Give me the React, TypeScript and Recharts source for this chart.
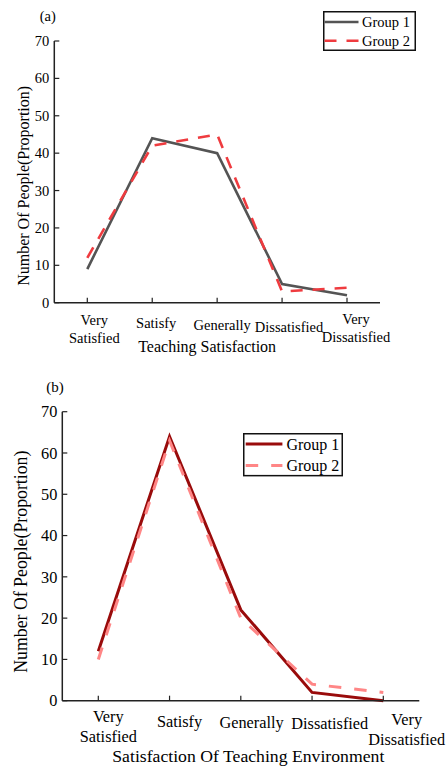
import React from 'react';
import { LineChart, Line, XAxis, YAxis, Legend } from 'recharts';

// ---------- data ----------
const categories = ['Very Satisfied', 'Satisfy', 'Generally', 'Dissatisfied', 'Very Dissatisfied'];
const yTicks = [0, 10, 20, 30, 40, 50, 60, 70];
const seriesNames = ['Group 1', 'Group 2'];

const teachingGroup1 = [9, 44, 40, 5, 2];
const teachingGroup2 = [12, 42, 45, 3, 4];
const environmentGroup1 = [12, 64, 22, 2, 0];
const environmentGroup2 = [10, 63, 20, 4, 2];

const teachingTitle = 'Teaching Satisfaction';
const environmentTitle = 'Satisfaction Of Teaching Environment';
const yTitle = 'Number Of People(Proportion)';

const buildRows = (g1: number[], g2: number[]) =>
  categories.map((c, i) => ({ cat: c, g1: g1[i], g2: g2[i] }));

const FONT = "'Liberation Serif', 'Times New Roman', serif";
const AXIS = '#222';
const INK = '#000';

type Panel = {
  tag: string;
  top: number;
  height: number;
  rows: { cat: string; g1: number; g2: number }[];
  xTitle: string;
  margin: { top: number; right: number; left: number; bottom: number };
  pad: number;
  colors: [string, string];
  widths: [number, number];
  dash: string;
  tickFont: number;
  labelFont: number;
  yLabelFont: number;
  legendFont: number;
  tickDx: number[];
  tickDy1: number[];
  lineGap: number;
  xTitleDx: number;
  xTitleDy: number;
  yTitleX: number;
  yTitleDy: number;
  legend: { left: number; top: number; width: number; height: number; rows: [number, number]; sx: [number, number]; tx: number };
  tagPos: { x: number; y: number; size: number };
};

const panels: Panel[] = [
  {
    tag: '(a)',
    top: 0,
    height: 370,
    rows: buildRows(teachingGroup1, teachingGroup2),
    xTitle: teachingTitle,
    margin: { top: 41, right: 68, left: 10.3, bottom: 27.3 },
    pad: 33,
    colors: ['#545454', '#ef3b3f'],
    widths: [2.6, 2.6],
    dash: '12 10',
    tickFont: 14.5,
    labelFont: 16,
    yLabelFont: 16,
    legendFont: 14.5,
    tickDx: [7, 4, 5, 7, 9],
    tickDy1: [22.3, 25.6, 27.3, 29, 21.6],
    lineGap: 17.6,
    xTitleDx: -10,
    xTitleDy: 49,
    yTitleX: 29.3,
    yTitleDy: 14,
    legend: { left: 322.7, top: 11.3, width: 93, height: 40, rows: [11, 29.7], sx: [1.5, 35.5], tx: 39 },
    tagPos: { x: 47.7, y: 16, size: 14.5 },
  },
  {
    tag: '(b)',
    top: 380,
    height: 386,
    rows: buildRows(environmentGroup1, environmentGroup2),
    xTitle: environmentTitle,
    margin: { top: 31.7, right: 28.7, left: 18.3, bottom: 25.3 },
    pad: 36,
    colors: ['#990b0b', '#ff8686'],
    widths: [3, 3],
    dash: '12.5 13',
    tickFont: 16.3,
    labelFont: 17.7,
    yLabelFont: 17.8,
    legendFont: 16,
    tickDx: [10, 10, 10.7, 17.7, 23.4],
    tickDy1: [21.6, 26, 27.6, 28.6, 24.3],
    lineGap: 20,
    xTitleDx: 7.5,
    xTitleDy: 61,
    yTitleX: 26.7,
    yTitleDy: 5.5,
    legend: { left: 243.3, top: 53.3, width: 100, height: 43.4, rows: [11, 32.4], sx: [2.7, 39.4], tx: 43.4 },
    tagPos: { x: 55, y: 6.7, size: 15 },
  },
];

const Y_AXIS_W = 44;
const X_AXIS_H = 40;
const TICK_LEN = 5;

function makeXTick(p: Panel) {
  return (props: any) => {
    const { x, y, payload, index } = props;
    const label = String(payload.value);
    const parts = label.startsWith('Very ') ? ['Very', label.slice(5)] : [label];
    const cx = x + (p.tickDx[index] ?? 0);
    const by = y + (p.tickDy1[index] ?? 26);
    return (
      <g>
        <line x1={x} y1={y} x2={x} y2={y - TICK_LEN} stroke={AXIS} strokeWidth={1.2} />
        <text x={cx} y={by} textAnchor="middle" fontFamily={FONT} fontSize={p.tickFont} fill={INK}>
          {parts.map((t, i) => (
            <tspan key={i} x={cx} y={by + i * p.lineGap}>
              {t}
            </tspan>
          ))}
        </text>
      </g>
    );
  };
}

function makeYTick(p: Panel) {
  return (props: any) => {
    const { x, y, payload } = props;
    return (
      <g>
        <line x1={x} y1={y} x2={x + TICK_LEN} y2={y} stroke={AXIS} strokeWidth={1.2} />
        <text x={x - 5} y={y} dy="0.35em" textAnchor="end" fontFamily={FONT} fontSize={p.tickFont} fill={INK}>
          {payload.value}
        </text>
      </g>
    );
  };
}

function makeLegend(p: Panel) {
  const L = p.legend;
  return () => (
    <svg width={L.width} height={L.height} style={{ display: 'block' }}>
      <rect x={0.75} y={0.75} width={L.width - 1.5} height={L.height - 1.5} fill="#fff" stroke="#111" strokeWidth={1.5} />
      {seriesNames.map((name, i) => (
        <g key={name}>
          <line
            x1={L.sx[0]}
            x2={L.sx[1]}
            y1={L.rows[i]}
            y2={L.rows[i]}
            stroke={p.colors[i]}
            strokeWidth={p.widths[i]}
            strokeDasharray={i === 1 ? p.dash : undefined}
          />
          <text x={L.tx} y={L.rows[i]} dy="0.35em" fontFamily={FONT} fontSize={p.legendFont} fill={INK}>
            {name}
          </text>
        </g>
      ))}
    </svg>
  );
}

function PanelChart({ p }: { p: Panel }) {
  return (
    <div style={{ position: 'absolute', left: 0, top: p.top, width: 448, height: p.height }}>
      <LineChart width={448} height={p.height} data={p.rows} margin={p.margin}>
        <XAxis
          dataKey="cat"
          height={X_AXIS_H}
          padding={{ left: p.pad, right: p.pad }}
          tickSize={0}
          tickMargin={0}
          tickLine={false}
          axisLine={{ stroke: AXIS, strokeWidth: 1.5 }}
          interval={0}
          tick={makeXTick(p)}
          label={(lp: any) => {
            const vb = lp.viewBox;
            return (
              <text
                x={vb.x + vb.width / 2 + p.xTitleDx}
                y={vb.y + p.xTitleDy}
                textAnchor="middle"
                fontFamily={FONT}
                fontSize={p.labelFont}
                fill={INK}
              >
                {p.xTitle}
              </text>
            );
          }}
        />
        <YAxis
          width={Y_AXIS_W}
          domain={[0, 70]}
          ticks={yTicks}
          type="number"
          tickSize={0}
          tickMargin={0}
          tickLine={false}
          axisLine={{ stroke: AXIS, strokeWidth: 1.5 }}
          interval={0}
          tick={makeYTick(p)}
          label={(lp: any) => {
            const vb = lp.viewBox;
            const cy = vb.y + vb.height / 2 + p.yTitleDy;
            const cx = p.yTitleX;
            return (
              <text
                x={cx}
                y={cy}
                transform={`rotate(-90, ${cx}, ${cy})`}
                textAnchor="middle"
                fontFamily={FONT}
                fontSize={p.yLabelFont}
                fill={INK}
              >
                {yTitle}
              </text>
            );
          }}
        />
        <Legend
          layout="vertical"
          align="center"
          verticalAlign="middle"
          wrapperStyle={{ left: p.legend.left, top: p.legend.top, width: p.legend.width, height: p.legend.height }}
          content={makeLegend(p)}
        />
        <Line
          dataKey="g1"
          name={seriesNames[0]}
          stroke={p.colors[0]}
          strokeWidth={p.widths[0]}
          dot={false}
          activeDot={false}
          isAnimationActive={false}
        />
        <Line
          dataKey="g2"
          name={seriesNames[1]}
          stroke={p.colors[1]}
          strokeWidth={p.widths[1]}
          strokeDasharray={p.dash}
          dot={false}
          activeDot={false}
          isAnimationActive={false}
        />
      </LineChart>
      <div
        style={{
          position: 'absolute',
          left: p.tagPos.x,
          top: p.tagPos.y,
          transform: 'translate(-50%, -50%)',
          fontFamily: FONT,
          fontSize: p.tagPos.size,
          lineHeight: 1,
          color: INK,
          whiteSpace: 'nowrap',
        }}
      >
        {p.tag}
      </div>
    </div>
  );
}

export default function App() {
  return (
    <div style={{ position: 'absolute', left: 0, top: 0, width: 448, height: 766, background: '#fff', overflow: 'hidden' }}>
      {panels.map((p) => (
        <PanelChart key={p.tag} p={p} />
      ))}
    </div>
  );
}
